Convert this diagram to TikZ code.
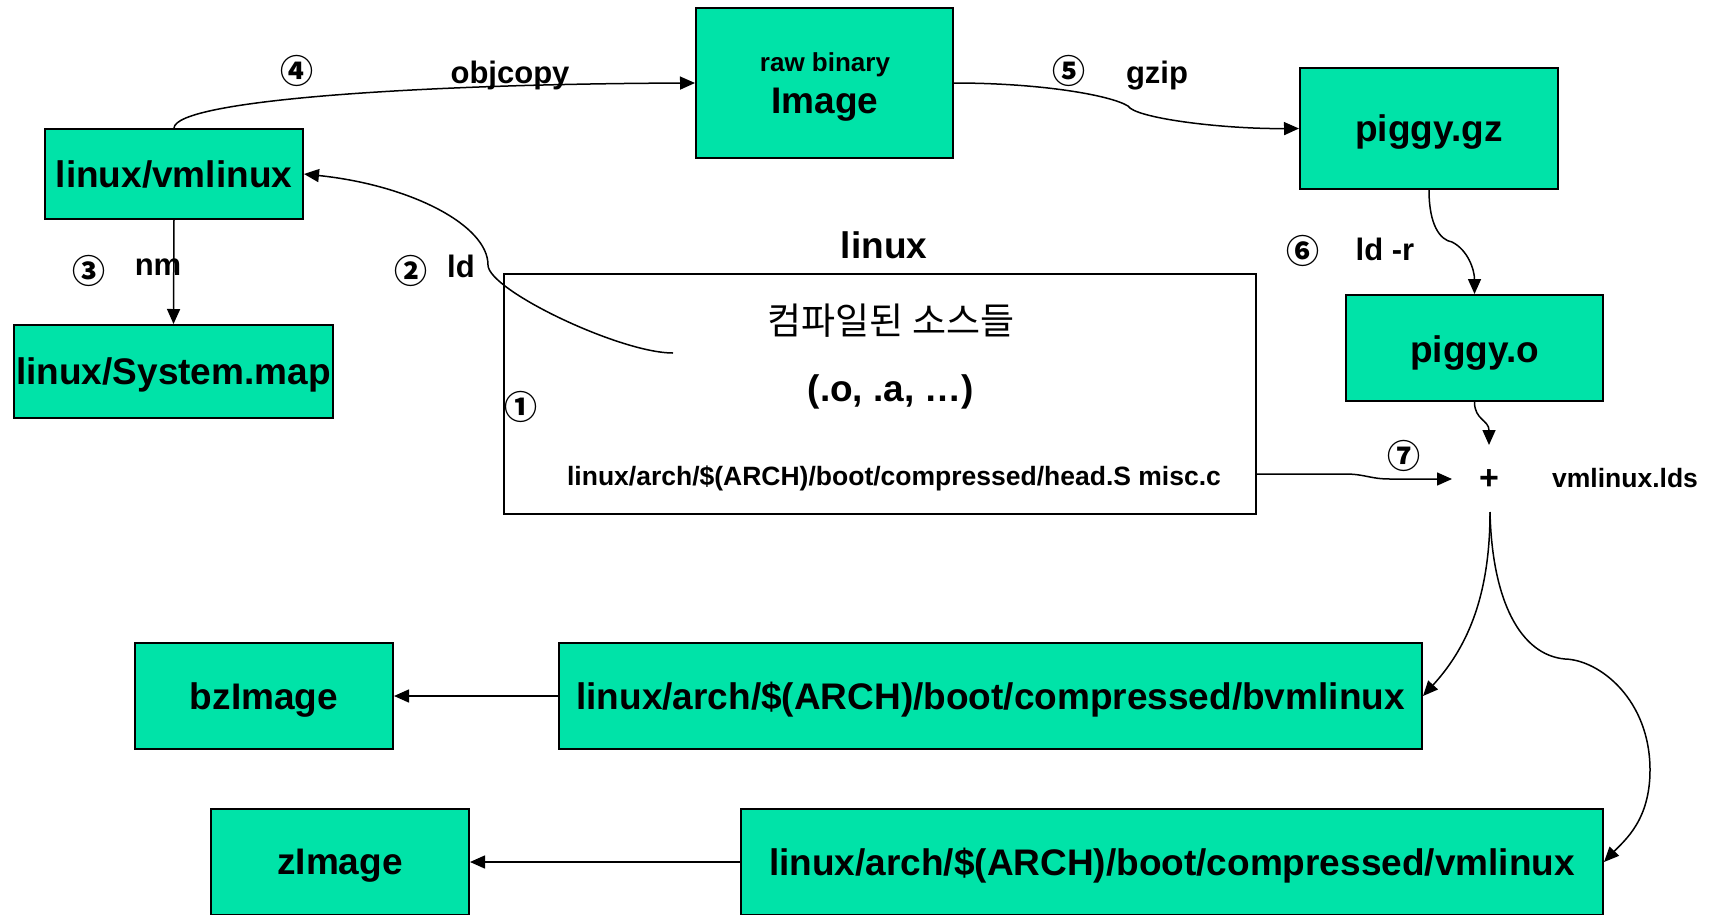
\documentclass[tikz,border=0pt]{standalone}
\usepackage{fontspec}
\setmainfont{Liberation Sans}
\newfontfamily\krfont{Noto Sans CJK KR}
\usetikzlibrary{arrows.meta}
\definecolor{boxgreen}{RGB}{0,227,168}
\begin{document}
\begin{tikzpicture}[x=1pt,y=-1pt,
  gbox/.style={draw, line width=2pt, fill=boxgreen, inner sep=0pt, text depth=0pt, font=\bfseries\fontsize{37}{40}\selectfont},
  big/.style={inner sep=0pt, font=\bfseries\fontsize{37}{40}\selectfont},
  lbl/.style={inner sep=0pt, text depth=0pt, font=\bfseries\fontsize{31}{34}\selectfont},
  small/.style={inner sep=0pt, font=\bfseries\fontsize{26.5}{29}\selectfont},
  num/.style={inner sep=0pt, font=\krfont\bfseries\fontsize{33}{36}\selectfont},
  arr/.style={line width=1.5pt, -{Triangle[length=15pt,width=13pt]}},
]
\clip (0,0) rectangle (1713,914);
\fill[white] (0,0) rectangle (1713,914);

% boxes
\node[gbox, minimum width=258pt, minimum height=90pt] (vml) at (174,174) {linux/vmlinux};
\node[gbox, minimum width=319pt, minimum height=93pt] (smap) at (173.5,371.5) {linux/System.map};
\node[gbox, minimum width=257pt, minimum height=150pt] (img) at (824.5,83) {};
\node[inner sep=0pt, font=\bfseries\fontsize{26}{28}\selectfont] (rawb) at (825,65) {raw binary};
\node[big] (imgt) at (825,105) {Image};
\node[gbox, minimum width=258pt, minimum height=121pt] (pgz) at (1429,128.5) {piggy.gz};
\node[gbox, minimum width=257pt, minimum height=106pt] (pgo) at (1474.5,348) {\raisebox{-1.5pt}{piggy.o}};
\node[draw, line width=2pt, fill=white, minimum width=752pt, minimum height=240pt] (bigbox) at (880,394) {};
\node[gbox, minimum width=863pt, minimum height=106pt] (bvm) at (990.5,696) {linux/arch/\$(ARCH)/boot/compressed/bvmlinux};
\node[gbox, minimum width=258pt, minimum height=106pt] (bzi) at (264,696) {bzImage};
\node[gbox, minimum width=862pt, minimum height=106pt] (zvm) at (1172,862) {linux/arch/\$(ARCH)/boot/compressed/vmlinux};
\node[gbox, minimum width=258pt, minimum height=106pt] (zim) at (340,862) {zImage};

% texts
\node[big] (lnx) at (884,245) {linux};
\node[inner sep=0pt, font=\krfont\fontsize{37}{40}\selectfont] (kr) at (891,321) {컴파일된 소스들};
\node[big] (ext) at (891,392) {(.o, .a, …)};
\node[small] (heads) at (894,478) {linux/arch/\$(ARCH)/boot/compressed/head.S misc.c};
\node[small] (lds) at (1625,478) {vmlinux.lds};
\node[inner sep=0pt, font=\bfseries\fontsize{34}{36}\selectfont] (plus) at (1489,480) {+};

\node[num] (n1) at (521,407) {①};
\node[num] (n2) at (411,271) {②};
\node[num] (n3) at (88.5,271) {③};
\node[num] (n4) at (297,71) {④};
\node[num] (n5) at (1069,71) {⑤};
\node[num] (n6) at (1303,251) {⑥};
\node[num] (n7) at (1404,456) {⑦};

\node[lbl] (lnm) at (158,267) {nm};
\node[lbl] (lld) at (461,266) {ld};
\node[lbl] (lobj) at (510,72) {objcopy};
\node[lbl] (lgz) at (1157,72) {gzip};
\node[lbl] (lldr) at (1385,249) {ld -r};

% coordinates
\coordinate (ldsrc) at (673,353);
\coordinate (ldmid) at (488,265);
\coordinate (g1) at (1128,106);
\coordinate (r1) at (1452,242);
\coordinate (plustop) at (1489,445);
\coordinate (pluslft) at (1452,479);
\coordinate (plusbot) at (1490,512);
\coordinate (k1) at (1565,659);

% connectors
\draw[arr] (vml.south) -- (smap.north);
\draw[arr] (vml.north) .. controls (176,100) and (420,84) .. (img.west);
\draw[arr] (ldsrc) .. controls (620,353) and (488,290) .. (ldmid) .. controls (488,225) and (410,185) .. (vml.east);
\draw[arr] (img.east) .. controls (1040,83) and (1110,95) .. (g1) .. controls (1135,118) and (1220,129) .. (pgz.west);
\draw[arr] (pgz.south) .. controls (1429,225) and (1440,240) .. (r1) .. controls (1468,250) and (1474.5,270) .. (pgo.north);
\draw[arr] (pgo.south) .. controls (1474.5,420) and (1489,420) .. (plustop);
\draw[arr] ([yshift=-80pt]bigbox.east) -- (1345,474) .. controls (1365,474) and (1370,479) .. (1390,479) -- (pluslft);
\draw[arr] (plusbot) .. controls (1490,600) and (1465,650) .. (bvm.east);
\draw[arr] (plusbot) .. controls (1492,600) and (1520,655) .. (k1) .. controls (1600,660) and (1650,700) .. (1650,770) .. controls (1650,820) and (1625,840) .. (zvm.east);
\draw[arr] (bvm.west) -- (bzi.east);
\draw[arr] (zvm.west) -- (zim.east);
\end{tikzpicture}
\end{document}
